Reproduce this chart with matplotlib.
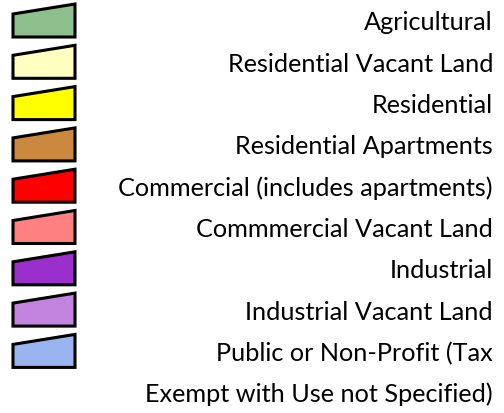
import matplotlib
matplotlib.use("Agg")
import matplotlib.pyplot as plt
from matplotlib.patches import Polygon

categories = [
    "Agricultural",
    "Residential Vacant Land",
    "Residential",
    "Residential Apartments",
    "Commercial (includes apartments)",
    "Commmercial Vacant Land",
    "Industrial",
    "Industrial Vacant Land",
    "Public or Non-Profit (Tax\nExempt with Use not Specified)",
]
colors = [
    "#8fbf8c", "#ffffc0", "#ffff00", "#cd8840", "#ff0000",
    "#ff8080", "#9a2fcc", "#c384e0", "#99b4f0",
]

W, H = 504, 413
fig = plt.figure(figsize=(W / 100, H / 100), dpi=100)
ax = fig.add_axes([0, 0, 1, 1])
ax.set_xlim(0, W)
ax.set_ylim(H, 0)
ax.axis("off")

step = 41.3
for i, (lab, col) in enumerate(zip(categories, colors)):
    bottom = 37 + step * i
    pts = [(13, bottom), (13, bottom - 23), (75, bottom - 33), (75, bottom)]
    ax.add_patch(Polygon(pts, closed=True, facecolor=col, edgecolor="black",
                         linewidth=2.2, joinstyle="miter"))
    lines = lab.split("\n")
    for j, ln in enumerate(lines):
        ax.text(493, 21 + step * (i + j), ln, ha="right", va="center_baseline",
                fontsize=18.2, family="Lato", color="black")

fig.savefig("out.png", dpi=100)
